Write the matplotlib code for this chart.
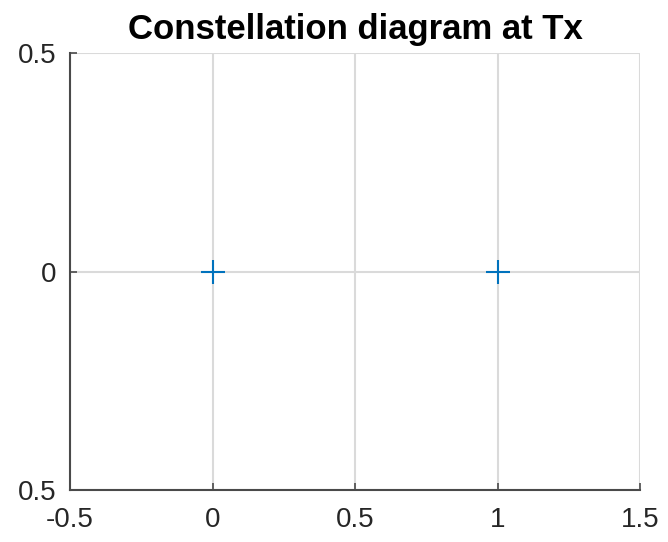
import matplotlib
matplotlib.use("Agg")
import matplotlib.pyplot as plt

# Transmitted BPSK-like symbols (in-phase, quadrature)
symbols_i = [0, 1]
symbols_q = [0, 0]

x_ticks = [-0.5, 0, 0.5, 1, 1.5]
x_tick_labels = ["-0.5", "0", "0.5", "1", "1.5"]
y_ticks = [-0.5, 0, 0.5]
y_tick_labels = ["0.5", "0", "0.5"]

plt.rcParams['font.family'] = ['Liberation Sans', 'DejaVu Sans']
plt.rcParams['xtick.direction'] = 'in'
plt.rcParams['ytick.direction'] = 'in'

fig = plt.figure(figsize=(6.68, 5.42), dpi=100)
ax = fig.add_axes([70/668, 52/542, 570/668, 437/542])

ax.plot(symbols_i, symbols_q, linestyle='none', marker='+', markersize=17,
        markeredgewidth=1.5, color='#0072BD', zorder=3)

ax.set_xlim(-0.5, 1.5)
ax.set_ylim(-0.5, 0.5)
ax.set_xticks(x_ticks)
ax.set_xticklabels(x_tick_labels)
ax.set_yticks(y_ticks)
ax.set_yticklabels(y_tick_labels)

ax.grid(True, color='#DADADA', linewidth=1.5)
ax.set_axisbelow(True)
for side in ('top', 'right'):
    ax.spines[side].set_visible(False)
for side in ('left', 'bottom'):
    ax.spines[side].set_color('#4a4a4a')
    ax.spines[side].set_linewidth(1.5)

ax.tick_params(direction='in', length=5, width=1.2, color='#4a4a4a',
               labelcolor='#262626', labelsize=20)
ax.tick_params(axis='y', pad=10)
ax.tick_params(axis='x', pad=12)

ax.set_title('Constellation diagram at Tx', fontsize=25, fontweight='bold',
             color='black', pad=10)

fig.savefig('out.png', dpi=100)
